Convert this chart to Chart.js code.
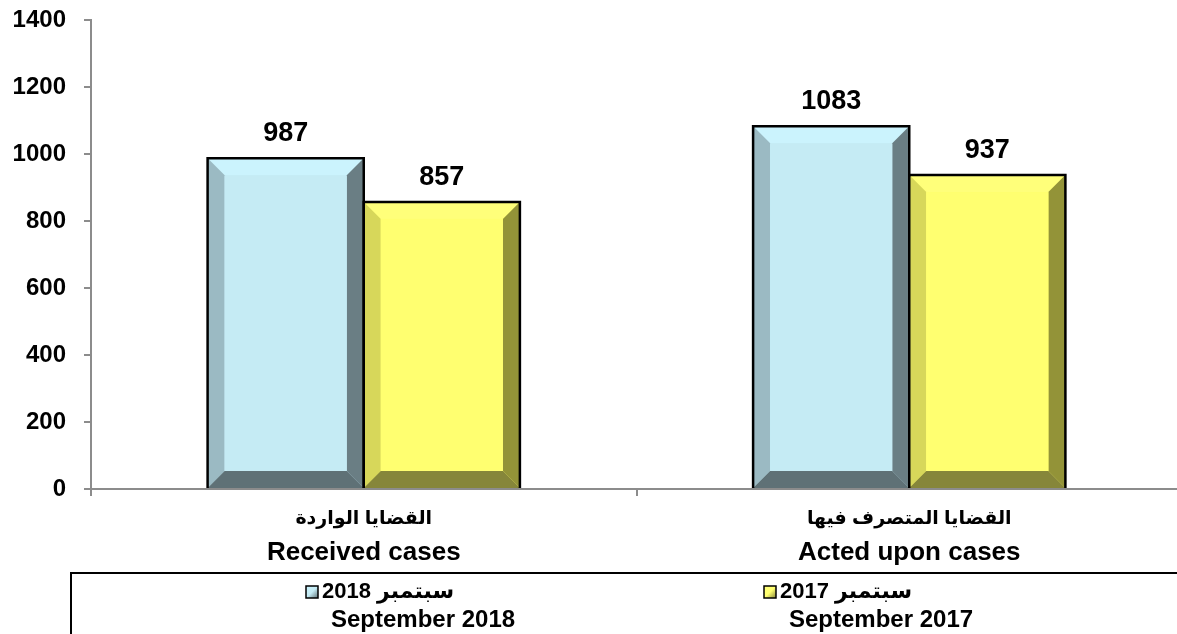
<!DOCTYPE html>
<html>
<head>
<meta charset="utf-8">
<script src="https://cdn.jsdelivr.net/npm/chart.js@4.4.1/dist/chart.umd.min.js"></script>
<style>
html, body { margin: 0; padding: 0; background: #fff; overflow: hidden; }
#wrap { width: 1182px; height: 634px; position: relative; }
</style>
</head>
<body>
<div id="wrap"><canvas id="chart"></canvas></div>
<script>
// data
const categoriesAr = ['القضايا الواردة', 'القضايا المتصرف فيها'];
const categoriesEn = ['Received cases', 'Acted upon cases'];
const seriesNamesAr = ['سبتمبر 2018', 'سبتمبر 2017'];
const seriesNamesEn = ['September 2018', 'September 2017'];
const sep2018 = [987, 1083];
const sep2017 = [857, 937];
const yTicks = [0, 200, 400, 600, 800, 1000, 1200, 1400];

// bevel colours
const bevelBlue = { front: '#c5ebf4', top: '#cbf3fd', left: '#9bbac3', right: '#6a7e84', bottom: '#5f7176' };
const bevelYellow = { front: '#ffff70', top: '#ffff7a', left: '#d7d75a', right: '#939338', bottom: '#86863a' };

const FONT = '"Liberation Sans", Arial, "DejaVu Sans", sans-serif';
const AXIS_GREY = '#8c8c8c';

function poly(ctx, pts, col) {
    ctx.beginPath();
    ctx.moveTo(pts[0][0], pts[0][1]);
    for (let k = 1; k < pts.length; k++) ctx.lineTo(pts[k][0], pts[k][1]);
    ctx.closePath();
    ctx.fillStyle = col;
    ctx.fill();
}

const bevelPlugin = {
    id: 'bevel',
    afterDatasetsDraw(chart) {
        const ctx = chart.ctx;
        chart.data.datasets.forEach((ds, i) => {
            const c = ds.bevel;
            chart.getDatasetMeta(i).data.forEach(bar => {
                const l = bar.x - bar.width / 2, r = bar.x + bar.width / 2;
                const t = bar.y, b = bar.base;
                const d = 17;
                ctx.save();
                poly(ctx, [[l, t], [r, t], [r - d, t + d], [l + d, t + d]], c.top);
                poly(ctx, [[l, t], [l + d, t + d], [l + d, b - d], [l, b]], c.left);
                poly(ctx, [[r, t], [r, b], [r - d, b - d], [r - d, t + d]], c.right);
                poly(ctx, [[l, b], [l + d, b - d], [r - d, b - d], [r, b]], c.bottom);
                ctx.fillStyle = c.front;
                ctx.fillRect(l + d, t + d, r - l - 2 * d, b - t - 2 * d);
                ctx.strokeStyle = '#000';
                ctx.lineWidth = 2.5;
                ctx.beginPath();
                ctx.moveTo(l, b); ctx.lineTo(l, t); ctx.lineTo(r, t); ctx.lineTo(r, b);
                ctx.stroke();
                ctx.restore();
            });
        });
    }
};

const textPlugin = {
    id: 'texts',
    afterDraw(chart) {
        const ctx = chart.ctx;
        ctx.save();
        ctx.fillStyle = '#000';

        // value labels
        ctx.font = 'bold 27px ' + FONT;
        ctx.textAlign = 'center';
        ctx.textBaseline = 'alphabetic';
        chart.data.datasets.forEach((ds, i) => {
            chart.getDatasetMeta(i).data.forEach((bar, j) => {
                ctx.fillText(String(ds.data[j]), bar.x, bar.y - 17);
            });
        });

        // category labels
        const xs = chart.scales.x;
        ctx.textBaseline = 'middle';
        categoriesAr.forEach((lab, i) => {
            const cx = xs.getPixelForValue(i);
            ctx.direction = 'rtl';
            ctx.font = 'bold 19px ' + FONT;
            ctx.fillText(lab, cx, 519);
            ctx.direction = 'ltr';
            ctx.font = 'bold 26px ' + FONT;
            ctx.fillText(categoriesEn[i], cx, 553);
        });

        // legend box
        ctx.strokeStyle = '#000';
        ctx.lineWidth = 2;
        ctx.strokeRect(71, 573, 1200, 100);

        const markX = [306, 764];
        chart.data.datasets.forEach((ds, i) => {
            const mx = markX[i], my = 586, s = 12;
            const g = ctx.createLinearGradient(mx, my, mx + s, my + s);
            g.addColorStop(0, ds.bevel.top);
            g.addColorStop(0.5, ds.bevel.front);
            g.addColorStop(1, ds.bevel.bottom);
            ctx.fillStyle = g;
            ctx.fillRect(mx, my, s, s);
            ctx.lineWidth = 1.5;
            ctx.strokeRect(mx, my, s, s);
            ctx.fillStyle = '#000';
            ctx.textAlign = 'left';
            ctx.direction = 'rtl';
            ctx.font = 'bold 22px ' + FONT;
            ctx.fillText(seriesNamesAr[i], mx + 16, 592);
            ctx.direction = 'ltr';
            ctx.font = 'bold 24px ' + FONT;
            ctx.fillText(seriesNamesEn[i], mx + 25, 620);
        });
        ctx.restore();
    }
};

new Chart(document.getElementById('chart'), {
    type: 'bar',
    data: {
        labels: categoriesEn,
        datasets: [
            { label: seriesNamesEn[0], data: sep2018, backgroundColor: bevelBlue.front, bevel: bevelBlue, borderWidth: 0 },
            { label: seriesNamesEn[1], data: sep2017, backgroundColor: bevelYellow.front, bevel: bevelYellow, borderWidth: 0 }
        ]
    },
    options: {
        responsive: true,
        maintainAspectRatio: false,
        animation: false,
        datasets: { bar: { barPercentage: 1, categoryPercentage: 0.5725 } },
        layout: { padding: 0 },
        plugins: { legend: { display: false }, tooltip: { enabled: false } },
        scales: {
            x: {
                grid: { display: true, drawOnChartArea: false, drawTicks: true, tickLength: 7, color: AXIS_GREY, lineWidth: 2, offset: true },
                border: { color: AXIS_GREY, width: 2 },
                ticks: { display: false },
                afterFit: s => { s.height = 145; }
            },
            y: {
                min: 0,
                max: 1400,
                afterBuildTicks: s => { s.ticks = yTicks.map(v => ({ value: v })); },
                grid: { drawOnChartArea: false, drawTicks: true, tickLength: 7, color: AXIS_GREY, lineWidth: 2 },
                border: { color: AXIS_GREY, width: 2 },
                ticks: { color: '#000', padding: 18, font: { family: FONT, size: 24, weight: 'bold' }, callback: v => String(v) },
                afterFit: s => { s.width = 91; s.paddingTop = 20; s.paddingBottom = 0; }
            }
        }
    },
    plugins: [bevelPlugin, textPlugin]
});
</script>
</body>
</html>
